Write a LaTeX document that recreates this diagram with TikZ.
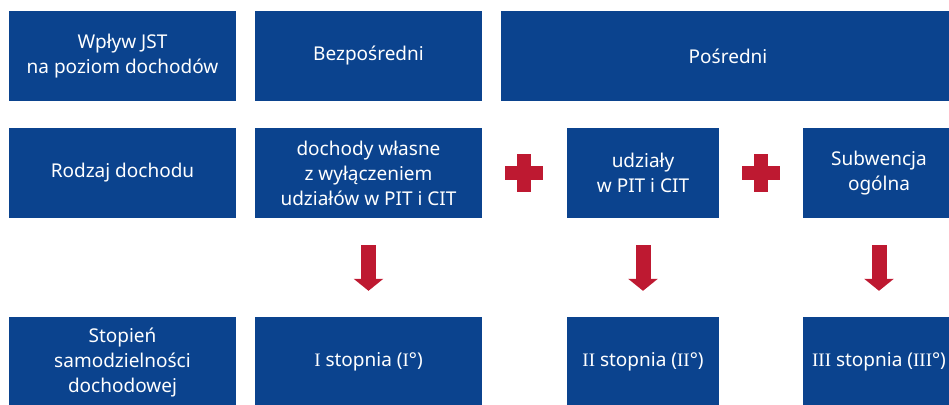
\documentclass[tikz,border=0pt]{standalone}
\usepackage{fontspec}
\setmainfont{Noto Sans}
\newfontfamily\serifI{Liberation Serif}
\usetikzlibrary{arrows.meta}
\definecolor{boxblue}{HTML}{0B438E}
\definecolor{plusred}{HTML}{BE1931}
\newcommand{\RI}{{\serifI I}}
\begin{document}
\begin{tikzpicture}[x=1pt,y=-1pt,
 box/.style={fill=boxblue, text=white, align=center, inner sep=0pt, minimum height=90pt, font=\fontsize{19}{25}\selectfont},
 wide/.style={box, minimum width=227pt},
 narrow/.style={box, minimum width=152pt},
 downarrow/.style={draw=plusred, line width=15pt, -{Triangle[width=29pt,length=12pt]}, shorten <=27pt, shorten >=26pt},
 plusv/.style={fill=plusred, inner sep=0pt, minimum width=14pt, minimum height=38pt},
 plush/.style={fill=plusred, inner sep=0pt, minimum width=38pt, minimum height=14pt},
]
\useasboundingbox (0,0) rectangle (949,404);
\clip (0,0) rectangle (949,404);
% row 1
\node[wide] (a1) at (122.5,56) {Wpływ JST\\na poziom dochodów};
\node[wide] (a2) at (368.5,56) {Bezpośredni};
\node[box, minimum width=454pt] (a3) at (728,56) {Pośredni};
% row 2
\node[wide] (b1) at (122.5,173) {Rodzaj dochodu};
\node[wide] (b2) at (368.5,173) {dochody własne\\z wyłączeniem\\udziałów w PIT i CIT};
\node[narrow] (b3) at (643,173) {udziały\\w PIT i CIT};
\node[narrow] (b4) at (879,173) {Subwencja\\ogólna};
% plus signs
\node[plusv] (p1v) at (524,173) {};
\node[plush] (p1h) at (524,173) {};
\node[plusv] (p2v) at (761,173) {};
\node[plush] (p2h) at (761,173) {};
% row 3
\node[wide] (c1) at (122.5,362) {Stopień\\samodzielności\\dochodowej};
\node[wide] (c2) at (368.5,362) {\RI{} stopnia (\RI°)};
\node[narrow] (c3) at (643,362) {\RI\RI{} stopnia (\RI\RI°)};
\node[narrow] (c4) at (879,362) {\RI\RI\RI{} stopnia (\RI\RI\RI°)};
% arrows
\draw[downarrow] (b2.south) -- (c2.north);
\draw[downarrow] (b3.south) -- (c3.north);
\draw[downarrow] (b4.south) -- (c4.north);
\end{tikzpicture}
\end{document}
